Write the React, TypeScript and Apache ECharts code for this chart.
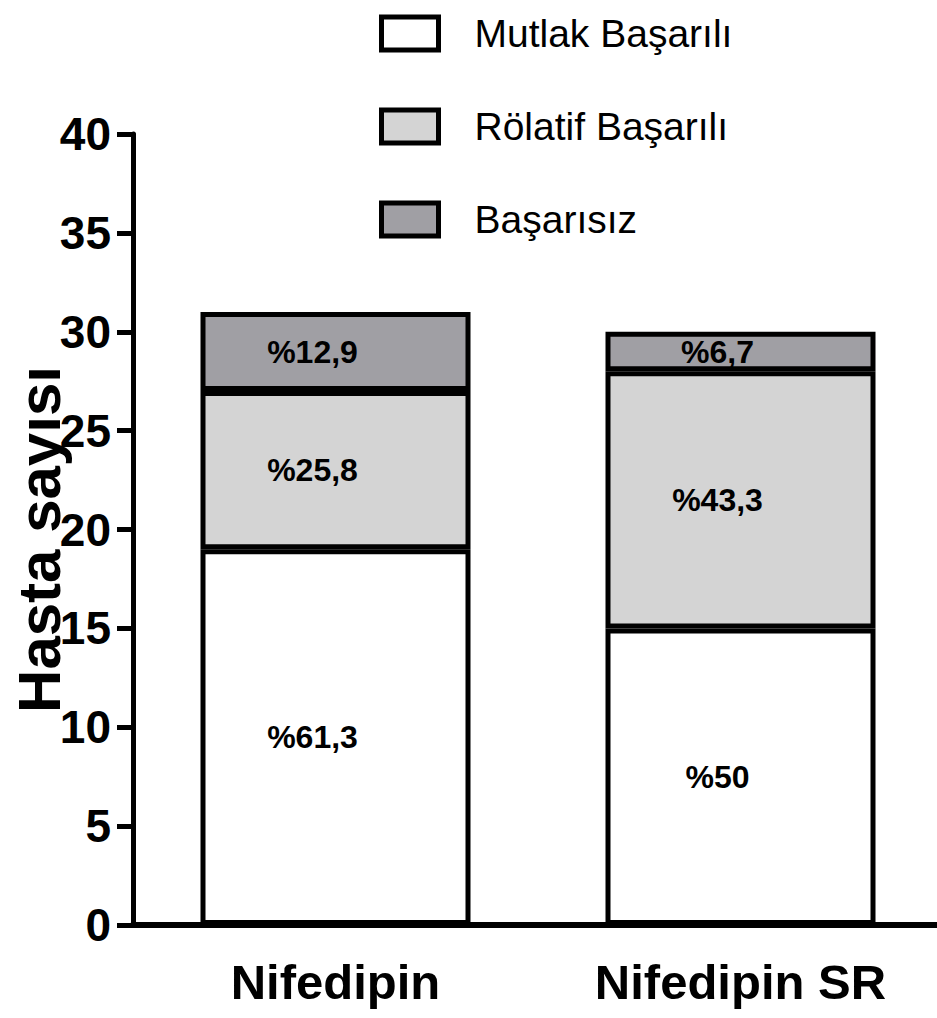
import React, { useEffect, useRef } from "react";
import * as echarts from "echarts";

const categories = ["Nifedipin", "Nifedipin SR"];
const seriesNames = ["Mutlak Başarılı", "Rölatif Başarılı", "Başarısız"];
const mutlak = [19, 15];
const rolatif = [8, 13];
const basarisiz = [4, 2];
const mutlakPct = ["%61,3", "%50"];
const rolatifPct = ["%25,8", "%43,3"];
const basarisizPct = ["%12,9", "%6,7"];
const colors = ["#ffffff", "#d4d4d4", "#a09fa4"];

const FONT = '"Liberation Sans", Arial, sans-serif';

export default function App() {
  const ref = useRef<HTMLDivElement>(null);
  useEffect(() => {
    if (!ref.current) return;
    const chart = echarts.init(ref.current, undefined, { renderer: "svg" });
    const values = [mutlak, rolatif, basarisiz];
    const pcts = [mutlakPct, rolatifPct, basarisizPct];
    const series = seriesNames.map((name, si) => ({
      name,
      type: "bar",
      stack: "total",
      barWidth: 270,
      data: values[si].map((v, i) => ({ value: v, label: { formatter: pcts[si][i] } })),
      itemStyle: { color: colors[si], borderColor: "#000", borderWidth: 5 },
      label: {
        show: true,
        position: "inside",
        offset: [-23, 0],
        color: "#000",
        fontFamily: FONT,
        fontWeight: "bold",
        fontSize: 32,
      },
    }));
    chart.setOption({
      animation: false,
      backgroundColor: "#fff",
      grid: { left: 133, right: -6, top: 134, bottom: 93, containLabel: false, outerBoundsMode: "none" },
      legend: {
        orient: "vertical",
        left: 379,
        top: 14,
        padding: 0,
        itemWidth: 57,
        itemHeight: 33,
        itemGap: 54,
        icon: "rect",
        itemStyle: { borderColor: "#000", borderWidth: 5 },
        textStyle: { fontFamily: FONT, fontSize: 39, lineHeight: 33, color: "#000", padding: [0, 0, 0, 31] },
        data: seriesNames,
      },
      xAxis: {
        type: "category",
        data: categories,
        axisLine: { lineStyle: { color: "#000", width: 6 } },
        axisTick: { alignWithLabel: true, length: 25, lineStyle: { color: "#000", width: 4 } },
        axisLabel: {
          interval: 0,
          color: "#000",
          fontFamily: FONT,
          fontWeight: "bold",
          fontSize: 49,
          margin: 32,
        },
      },
      yAxis: {
        type: "value",
        min: 0,
        max: 40,
        interval: 5,
        name: "Hasta sayısı",
        nameLocation: "middle",
        nameRotate: 90,
        nameGap: 64,
        nameMoveOverlap: false,
        nameTextStyle: {
          fontFamily: FONT,
          fontWeight: "bold",
          fontSize: 60,
          color: "#000",
          padding: [0, 20, 0, 0],
        },
        splitLine: { show: false },
        axisLine: { show: true, lineStyle: { color: "#000", width: 5 } },
        axisTick: { show: true, length: 16, lineStyle: { color: "#000", width: 5 } },
        axisLabel: {
          color: "#000",
          fontFamily: FONT,
          fontWeight: "bold",
          fontSize: 46,
          margin: 22,
        },
      },
      series,
    });
    return () => chart.dispose();
  }, []);
  return (
    <div
      ref={ref}
      style={{ position: "fixed", left: 0, top: 0, width: 937, height: 1018, background: "#fff" }}
    />
  );
}
